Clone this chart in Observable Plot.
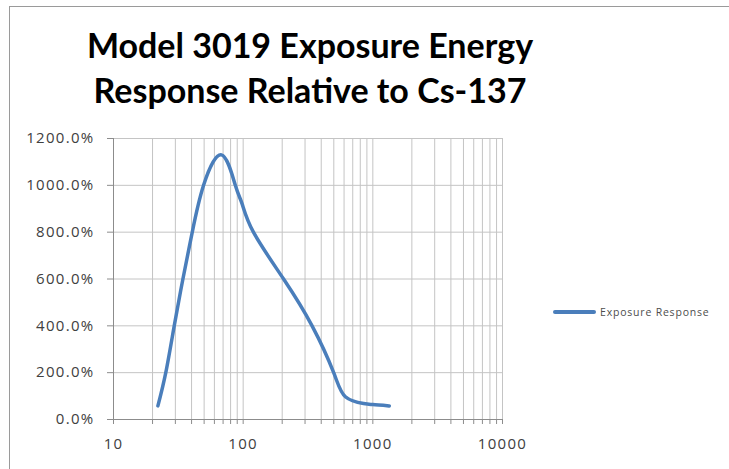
<!DOCTYPE html>
<html>
<head>
<meta charset="utf-8">
<script src="https://cdn.jsdelivr.net/npm/d3@7"></script>
<script src="https://cdn.jsdelivr.net/npm/@observablehq/plot@0.6"></script>
<style>
  html, body { margin: 0; padding: 0; background: #fff; }
  #wrap { position: relative; width: 729px; height: 469px; overflow: hidden; }
  #frame { position: absolute; left: 9px; top: 6px; width: 740px; height: 480px; border: 1px solid #9a9a9a; box-sizing: border-box; }
  #title { position: absolute; left: 0; width: 620px; top: 22px; text-align: center; font-family: Lato, "Open Sans", sans-serif; font-weight: bold; font-size: 34px; line-height: 45px; color: #000; }
  #legend { position: absolute; left: 553px; top: 305px; font-family: "Open Sans", sans-serif; font-size: 10.5px; letter-spacing: 0.8px; color: #4d4d4d; display: flex; align-items: center; }
  #legend .sw { width: 43px; height: 4px; background: #4a7ebb; margin-right: 4px; border-radius: 2px; }
  #chart { position: absolute; left: 0; top: 0; }
</style>
</head>
<body>
<div id="wrap">
  <div id="frame"></div>
  <div id="chart"></div>
  <div id="title">Model 3019 Exposure Energy<br>Response Relative to Cs-137</div>
  <div id="legend"><div class="sw"></div><span>Exposure Response</span></div>
</div>
<script>
// Energy (keV) and relative exposure response (%)
const energy   = [22, 25.3, 29.4, 34.3, 40.5, 49.5, 68, 87, 98, 120, 205, 340, 499, 614, 849, 1000, 1340];
const response = [58, 200, 400, 600, 800, 1000, 1130, 1000, 922, 800, 600, 400, 200, 97, 68, 64, 58];
const xMajorTicks = [10, 100, 1000, 10000];
const yTicks = [0, 200, 400, 600, 800, 1000, 1200];

const data = energy.map((e, i) => ({energy: e, response: response[i]}));
const xAllTicks = [];
for (let k = 0; k < xMajorTicks.length - 1; k++) {
  for (let m = 1; m <= 9; m++) xAllTicks.push(xMajorTicks[k] * m);
}
xAllTicks.push(xMajorTicks[xMajorTicks.length - 1]);

const gridColor = "#c4c4c4";
const axisColor = "#8c8c8c";
const labelColor = "#404040";
const font = "'Open Sans', sans-serif";

const chart = Plot.plot({
  width: 729,
  height: 469,
  marginLeft: 113,
  marginRight: 227,
  marginTop: 138,
  marginBottom: 50,
  style: {fontFamily: font, fontSize: "15px", color: labelColor, background: "transparent", overflow: "visible"},
  x: {type: "log", domain: [10, 10000]},
  y: {domain: [0, 1200]},
  marks: [
    Plot.ruleX(xAllTicks, {stroke: gridColor, strokeWidth: 1}),
    Plot.ruleY(yTicks, {stroke: gridColor, strokeWidth: 1}),
    Plot.ruleX([10], {stroke: axisColor}),
    Plot.ruleY([0], {stroke: axisColor}),
    Plot.axisX(xAllTicks, {
      tickSize: 5, tickPadding: 14, stroke: axisColor, label: null,
      tickFormat: d => xMajorTicks.includes(d) ? String(d) : "",
      fill: labelColor
    }),
    Plot.axisY(yTicks, {
      tickSize: 6, tickPadding: 13, stroke: axisColor, label: null,
      tickFormat: d => d.toFixed(1) + "%",
      fill: labelColor
    }),
    Plot.line(data, {x: "energy", y: "response", curve: "natural", stroke: "#4a7ebb", strokeWidth: 3.5, strokeLinecap: "round"})
  ]
});
chart.querySelectorAll("text").forEach(t => t.style.letterSpacing = "1.3px");
document.getElementById("chart").appendChild(chart);
</script>
</body>
</html>
